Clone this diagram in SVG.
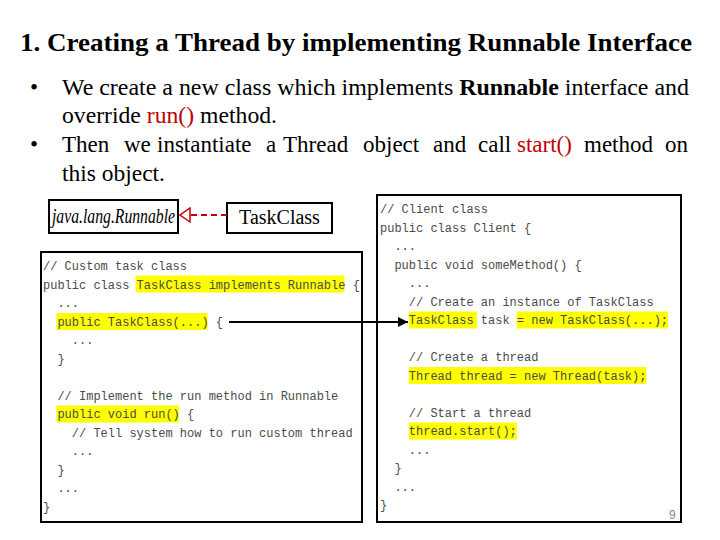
<svg xmlns="http://www.w3.org/2000/svg" width="720" height="540" viewBox="0 0 720 540">
<defs>
<style>
.title{font-family:"Liberation Serif","Times New Roman",serif;font-weight:bold;font-size:25px;fill:#000}
.body{font-family:"Liberation Serif","Times New Roman",serif;font-size:23px;fill:#000}
.red{fill:#c00000}
.box{fill:#fff;stroke:#000;stroke-width:2}
.uml{font-family:"Liberation Serif","Times New Roman",serif;font-size:20px;fill:#000}
.code{font-family:"Liberation Mono","Courier New",monospace;font-size:12px;fill:#4a4a4a;white-space:pre}
.hl{fill:#ffff00}
.pn{font-family:"Liberation Sans",Arial,sans-serif;font-size:12px;fill:#888}
</style>
<marker id="solid" viewBox="0 0 10 10" refX="10" refY="5" markerWidth="10" markerHeight="10" markerUnits="userSpaceOnUse" orient="auto">
<path d="M0,0 L10,5 L0,10 z" fill="#000"/>
</marker>
<marker id="hollow" viewBox="0 0 12 16" refX="11" refY="8" markerWidth="12" markerHeight="16" markerUnits="userSpaceOnUse" orient="auto">
<path d="M1,1 L11,8 L1,15 z" fill="#fff" stroke="#c00000" stroke-width="1.5"/>
</marker>
</defs>
<rect width="720" height="540" fill="#fff"/>

<g id="heading">
<text class="title" x="20" y="51" textLength="672" lengthAdjust="spacingAndGlyphs">1. Creating a Thread by implementing Runnable Interface</text>
<text class="body" x="30" y="95">•</text>
<text class="body" x="62" y="95" textLength="627" lengthAdjust="spacingAndGlyphs">We create a new class which implements <tspan font-weight="bold">Runnable</tspan> interface and</text>
<text class="body" x="62" y="123" textLength="215" lengthAdjust="spacingAndGlyphs">override <tspan class="red">run()</tspan> method.</text>
<text class="body" x="30" y="152">•</text>
<text class="body" y="152"><tspan x="62">Then</tspan><tspan x="124">we</tspan><tspan x="157">instantiate</tspan><tspan x="266">a</tspan><tspan x="283">Thread</tspan><tspan x="363">object</tspan><tspan x="433">and</tspan><tspan x="478">call</tspan><tspan x="517" class="red">start()</tspan><tspan x="584">method</tspan><tspan x="665">on</tspan></text>
<text class="body" x="62" y="181" textLength="103" lengthAdjust="spacingAndGlyphs">this object.</text>
</g>

<g id="runnable">
<rect class="box" x="49" y="200" width="129" height="33"/>
<text class="uml" x="52" y="223" font-style="italic" textLength="123" lengthAdjust="spacingAndGlyphs">java.lang.Runnable</text>
</g>

<g id="taskclass">
<rect class="box" x="227" y="203" width="105" height="30"/>
<text class="uml" x="279.5" y="224" text-anchor="middle">TaskClass</text>
</g>

<g id="customTaskCode">
<rect class="box" x="41" y="252" width="321" height="270"/>
<rect class="hl" x="135.6" y="275.5" width="208.8" height="17"/>
<rect class="hl" x="56.4" y="313" width="151.2" height="17"/>
<rect class="hl" x="56.4" y="405.5" width="122.4" height="17"/>
<text class="code" x="43" y="270">// Custom task class</text>
<text class="code" x="43" y="288.5">public class TaskClass implements Runnable {</text>
<text class="code" x="43" y="307">  ...</text>
<text class="code" x="43" y="325.5">  public TaskClass(...) {</text>
<text class="code" x="43" y="344">    ...</text>
<text class="code" x="43" y="362.5">  }</text>
<text class="code" x="43" y="399.5">  // Implement the run method in Runnable</text>
<text class="code" x="43" y="418">  public void run() {</text>
<text class="code" x="43" y="436.5">    // Tell system how to run custom thread</text>
<text class="code" x="43" y="455">    ...</text>
<text class="code" x="43" y="473.5">  }</text>
<text class="code" x="43" y="492">  ...</text>
<text class="code" x="43" y="510.5">}</text>
</g>

<g id="clientCode">
<rect class="box" x="377" y="195" width="304" height="327"/>
<rect class="hl" x="408.8" y="311.5" width="68" height="17"/>
<rect class="hl" x="516.8" y="311.5" width="151.2" height="17"/>
<rect class="hl" x="408.8" y="367" width="237.6" height="17"/>
<rect class="hl" x="408.8" y="422.5" width="108" height="17"/>
<text class="code" x="380" y="213">// Client class</text>
<text class="code" x="380" y="231.5">public class Client {</text>
<text class="code" x="380" y="250">  ...</text>
<text class="code" x="380" y="268.5">  public void someMethod() {</text>
<text class="code" x="380" y="287">    ...</text>
<text class="code" x="380" y="305.5">    // Create an instance of TaskClass</text>
<text class="code" x="380" y="324">    TaskClass task = new TaskClass(...);</text>
<text class="code" x="380" y="361">    // Create a thread</text>
<text class="code" x="380" y="379.5">    Thread thread = new Thread(task);</text>
<text class="code" x="380" y="416.5">    // Start a thread</text>
<text class="code" x="380" y="435">    thread.start();</text>
<text class="code" x="380" y="453.5">    ...</text>
<text class="code" x="380" y="472">  }</text>
<text class="code" x="380" y="490.5">  ...</text>
<text class="code" x="380" y="509">}</text>
<text class="pn" x="669" y="519">9</text>
</g>

<g id="connectors">
<line x1="227" y1="215" x2="180" y2="215" stroke="#c00000" stroke-width="2" stroke-dasharray="6,4" marker-end="url(#hollow)"/>
<line x1="229" y1="322" x2="408" y2="322" stroke="#000" stroke-width="2" marker-end="url(#solid)"/>
</g>
</svg>
